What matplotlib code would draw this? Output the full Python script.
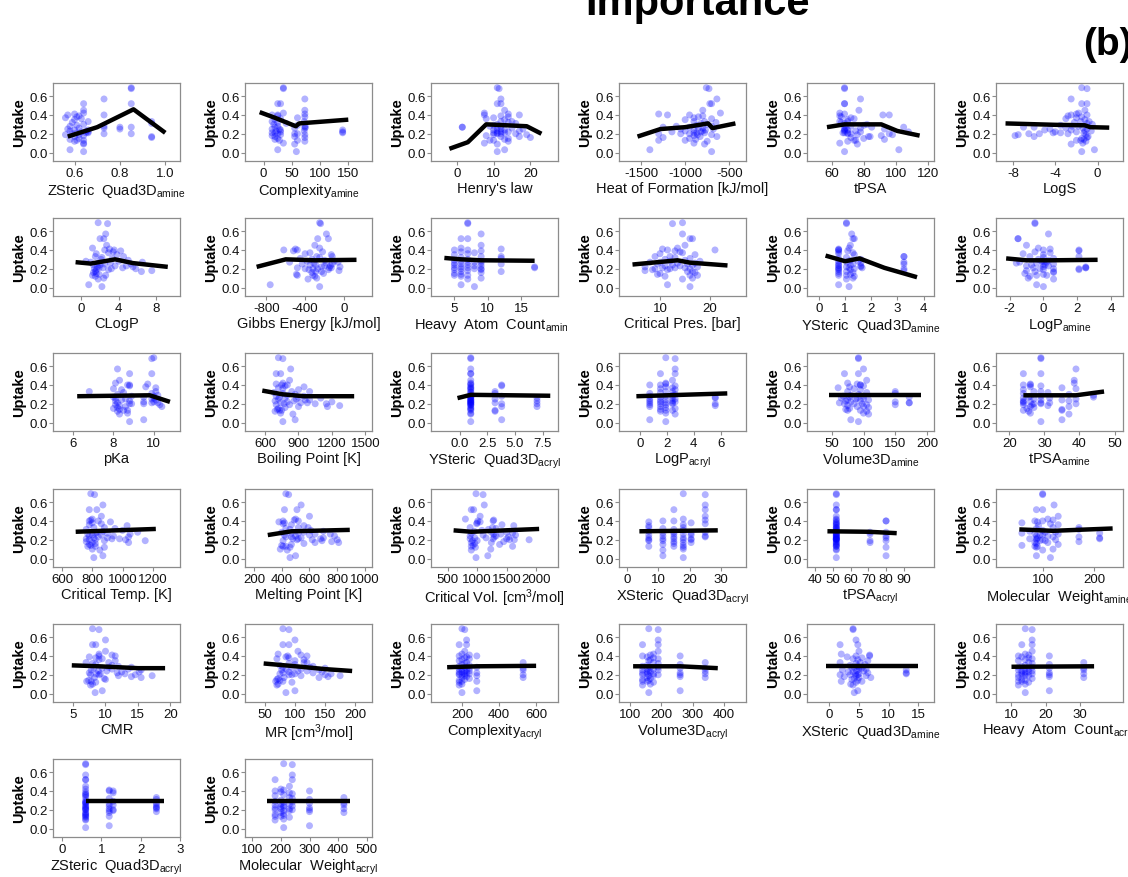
import matplotlib.pyplot as plt
from matplotlib.transforms import Bbox, TransformedBbox

plt.rcParams['font.family'] = ['Liberation Sans', 'DejaVu Sans']
plt.rcParams['mathtext.fontset'] = 'custom'
plt.rcParams['mathtext.rm'] = 'Liberation Sans'
plt.rcParams['mathtext.it'] = 'Liberation Sans:italic'
plt.rcParams['mathtext.bf'] = 'Liberation Sans:bold'
plt.rcParams['axes.unicode_minus'] = False

# measured uptake of every sample (same order in all descriptor lists below)
uptake = [0.69, 0.68, 0.57, 0.52, 0.52, 0.45, 0.42, 0.41,
          0.40, 0.40, 0.39, 0.38, 0.37, 0.36, 0.35, 0.33,
          0.33, 0.32, 0.31, 0.30, 0.29, 0.28, 0.28, 0.27,
          0.27, 0.26, 0.26, 0.25, 0.25, 0.24, 0.24, 0.23,
          0.23, 0.22, 0.22, 0.21, 0.21, 0.21, 0.20, 0.20,
          0.20, 0.19, 0.19, 0.18, 0.17, 0.17, 0.16, 0.15,
          0.14, 0.13, 0.13, 0.12, 0.10, 0.09, 0.03, 0.01]

# ---- descriptor values per sample + partial dependence curves ----
zsteric_amine = [0.85, 0.85, 0.73, 0.64, 0.85, 0.64, 0.64, 0.60,
                 0.57, 0.73, 0.62, 0.61, 0.56, 0.63, 0.60, 0.94,
                 0.66, 0.59, 0.94, 0.64, 0.61, 0.73, 0.58, 0.80,
                 0.85, 0.62, 0.73, 0.57, 0.80, 0.66, 0.60, 0.58,
                 0.65, 0.66, 0.63, 0.66, 0.65, 0.61, 0.85, 0.73,
                 0.59, 0.62, 0.56, 0.64, 0.94, 0.60, 0.94, 0.62,
                 0.58, 0.61, 0.64, 0.60, 0.64, 0.64, 0.58, 0.64]
zsteric_amine_pd_x = [0.57, 0.70, 0.86, 1.0]
zsteric_amine_pd_y = [0.17, 0.27, 0.46, 0.21]

complexity_amine = [35, 35, 73, 30, 25, 73, 35, 73,
                    25, 15, 25, 73, 60, 30, 20, 15,
                    72, 25, 40, 18, 60, 73, 25, 74,
                    20, 55, 73, 28, 15, 30, 140, 22,
                    72, 30, 140, 15, 140, 20, 55, 25,
                    60, 73, 30, 15, 55, 20, 73, 25,
                    20, 28, 60, 73, 35, 55, 25, 58]
complexity_amine_pd_x = [-7, 20, 57, 63, 150]
complexity_amine_pd_y = [0.43, 0.37, 0.28, 0.31, 0.35]

henry = [11, 11.5, 12, 11, 12, 13, 7.5, 14,
         7.5, 17, 12, 14, 10, 8, 13, 15,
         12, 14, 16, 11, 10, 9, 12, 1.5,
         1.5, 11, 15, 18, 12, 13, 10, 17,
         11, 12, 14, 10, 11, 13, 12, 16,
         11, 10, 19, 8, 12, 17, 20, 14,
         13, 9, 10, 14, 7.5, 11, 13, 11]
henry_pd_x = [-2, 3, 8, 19, 23]
henry_pd_y = [0.04, 0.11, 0.30, 0.28, 0.20]

heat_formation = [-760, -730, -640, -720, -700, -800, -600, -1300,
                  -1200, -950, -800, -850, -900, -700, -1000, -780,
                  -900, -650, -820, -750, -870, -1100, -700, -950,
                  -1250, -800, -850, -1050, -680, -900, -770, -1000,
                  -800, -1150, -820, -870, -900, -780, -950, -1050,
                  -1300, -860, -700, -900, -640, -830, -1250, -950,
                  -880, -1300, -1000, -750, -900, -780, -1400, -700]
heat_formation_pd_x = [-1540, -1280, -1000, -740, -690, -430]
heat_formation_pd_y = [0.17, 0.25, 0.27, 0.31, 0.26, 0.31]

tpsa = [68, 68, 78, 68, 68, 77, 65, 68,
        92, 96, 65, 66, 72, 74, 70, 65,
        70, 66, 68, 82, 80, 72, 68, 105,
        85, 69, 78, 68, 93, 68, 70, 75,
        68, 108, 78, 67, 70, 68, 96, 70,
        72, 98, 76, 91, 84, 83, 72, 80,
        93, 75, 74, 70, 65, 76, 102, 68]
tpsa_pd_x = [57, 68, 91, 101, 115]
tpsa_pd_y = [0.27, 0.30, 0.30, 0.23, 0.18]

logs = [-1.5, -1.0, -2.5, -1.5, -1.0, -1.2, -1.8, -2.0,
        -2.5, -1.0, -2.8, -1.5, -2.0, -3.0, -1.2, -0.8,
        -1.6, -2.2, -1.0, -0.5, -3.5, -1.8, -2.4, -7.0,
        -6.0, -1.4, -3.0, -4.5, -1.0, -2.5, -5.0, -0.6,
        -1.2, -4.0, -2.0, -3.5, -4.2, -1.3, -5.5, -6.5,
        -2.8, -1.1, -7.5, -7.8, -6.0, -0.9, -1.0, -1.5,
        -1.3, -2.0, -1.6, -1.1, -1.4, -2.5, -0.3, -1.5]
logs_pd_x = [-8.7, -4.0, -1.2, -0.7, 1.1]
logs_pd_y = [0.31, 0.295, 0.29, 0.27, 0.265]

clogp = [1.8, 2.8, 2.6, 2.0, 2.4, 2.7, 1.2, 3.0,
         3.5, 2.5, 4.2, 3.4, 2.9, 1.6, 3.8, 1.5,
         4.5, 2.2, 3.3, 2.1, 5.0, 0.5, 4.0, 6.5,
         1.0, 3.1, 1.8, 2.5, 5.3, 1.3, 2.0, 3.6,
         4.8, 1.7, 5.5, 1.9, 2.3, 4.4, 1.4, 3.2,
         5.8, 1.6, 2.9, 7.5, 6.4, 1.5, 1.3, 1.6,
         1.9, 2.6, 1.2, 1.5, 2.4, 1.8, 0.8, 2.2]
clogp_pd_x = [-0.6, 1.0, 3.6, 5.5, 9.2]
clogp_pd_y = [0.27, 0.255, 0.30, 0.26, 0.22]

gibbs = [-250, -240, -180, -270, -160, -300, -250, -500,
         -620, -480, -520, -220, -350, -400, -130, -120,
         -280, -250, -450, -330, -200, -100, -380, -60,
         -560, -180, -310, -430, -120, -290, -350, -200,
         -140, -40, -230, -130, -150, -480, -270, -320,
         -400, -160, -360, -50, -290, -230, -330, -210,
         -490, -480, -320, -300, -280, -370, -760, -250]
gibbs_pd_x = [-900, -600, -300, 130]
gibbs_pd_y = [0.22, 0.30, 0.29, 0.295]

heavy_amine = [7, 7, 9, 6, 7, 9, 6, 12,
               5, 7, 9, 6, 8, 7, 5, 12,
               9, 6, 12, 7, 5, 9, 6, 8,
               7, 5, 9, 6, 12, 7, 5, 8,
               9, 6, 17, 5, 17, 7, 6, 9,
               8, 5, 9, 7, 12, 6, 9, 5,
               6, 5, 7, 6, 9, 7, 6, 8]
heavy_amine_pd_x = [3.5, 6, 9, 17]
heavy_amine_pd_y = [0.315, 0.30, 0.29, 0.285]

crit_pres = [14.5, 12.5, 14.5, 16, 16.5, 15, 13.5, 10.5,
             11.5, 21, 13, 14, 14.5, 10, 17, 12,
             9, 13, 16, 11, 15, 18, 12, 8,
             10, 17, 13.5, 15.5, 9.5, 12.5, 16.5, 11,
             14, 7, 17.5, 10.5, 15, 13, 9, 16,
             12, 8.5, 11.5, 7, 16.5, 15.5, 17, 10,
             9.5, 17.5, 16, 11, 16.5, 14.5, 11.5, 16]
crit_pres_pd_x = [4.5, 13.5, 16, 23.5]
crit_pres_pd_y = [0.245, 0.29, 0.265, 0.235]

ysteric_amine = [1.05, 1.05, 1.25, 1.3, 1.35, 1.2, 1.15, 0.75,
                 0.75, 0.75, 1.1, 0.75, 1.3, 0.75, 1.35, 3.25,
                 3.25, 1.05, 0.75, 1.6, 1.2, 1.5, 0.75, 3.25,
                 1.05, 0.75, 1.6, 3.25, 1.3, 0.75, 1.2, 1.6,
                 0.75, 1.05, 1.6, 1.65, 0.75, 1.15, 0.75, 1.35,
                 3.25, 0.75, 1.2, 3.25, 1.05, 0.75, 1.3, 0.75,
                 1.2, 0.75, 1.05, 1.35, 1.3, 1.05, 0.75, 1.15]
ysteric_amine_pd_x = [0.25, 1.0, 1.55, 2.5, 3.75]
ysteric_amine_pd_y = [0.34, 0.28, 0.31, 0.21, 0.11]

logp_amine = [-0.5, -0.5, 0.3, -1.5, -1.5, -1.0, -0.3, 0.4,
              2.1, 0.0, 2.1, -0.5, 0.4, -1.2, 0.0, 2.1,
              -0.8, 0.0, 0.6, -0.3, 0.3, -0.1, 0.0, -1.4,
              0.2, -0.4, -1.6, 0.6, 0.0, -0.7, 0.1, 0.3,
              -1.0, 2.5, 0.0, 2.5, 2.5, -0.6, 0.6, 2.1,
              -0.2, 2.1, 0.0, -1.0, 0.6, -0.5, 0.6, -1.1,
              0.0, -0.4, 0.2, -0.8, -0.9, 0.6, -0.4, 0.0]
logp_amine_pd_x = [-2.2, -1.0, 0.5, 3.2]
logp_amine_pd_y = [0.31, 0.29, 0.29, 0.295]

pka = [10.0, 9.9, 8.2, 8.8, 9.9, 8.3, 8.1, 9.7,
       8.8, 8.7, 8.8, 9.6, 10.1, 8.0, 8.4, 10.1,
       6.8, 8.5, 9.9, 8.2, 10.2, 8.9, 10.0, 8.0,
       9.5, 8.1, 10.0, 8.6, 9.9, 8.4, 10.1, 8.8,
       8.1, 10.0, 9.5, 10.2, 8.2, 9.9, 8.9, 8.8,
       9.5, 8.1, 10.3, 8.3, 10.4, 8.6, 8.2, 8.0,
       8.3, 8.7, 8.5, 8.2, 8.7, 8.3, 9.5, 8.8]
pka_pd_x = [6.2, 8.0, 9.8, 10.8]
pka_pd_y = [0.28, 0.285, 0.29, 0.22]

boiling = [720, 760, 830, 740, 700, 820, 760, 700,
           750, 800, 780, 950, 720, 760, 900, 840,
           1000, 680, 760, 870, 800, 950, 700, 730,
           900, 780, 1100, 720, 880, 960, 1000, 860,
           690, 1200, 800, 980, 740, 920, 1050, 770,
           1150, 820, 700, 1270, 1160, 900, 780, 720,
           710, 730, 750, 690, 740, 850, 870, 760]
boiling_pd_x = [575, 760, 950, 1400]
boiling_pd_y = [0.34, 0.30, 0.28, 0.28]

ysteric_acryl = [1, 1, 1, 1, 1, 1, 1, 1,
                 3.8, 1, 3.8, 1, 1, 1, 1, 3.2,
                 1, 1, 3.2, 1, 1, 3.8, 1, 1,
                 1, 7, 1, 1, 3.2, 1, 1, 7,
                 1, 1, 1, 1, 1, 3.2, 3.8, 7,
                 1, 1, 1, 1, 3.8, 7, 1, 1,
                 1, 3.2, 1, 3.2, 1, 1, 3.8, 1]
ysteric_acryl_pd_x = [-0.2, 1.0, 8.2]
ysteric_acryl_pd_y = [0.26, 0.295, 0.285]

logp_acryl = [1.9, 2.6, 2.6, 1.5, 2.6, 2.4, 1.9, 1.9,
              0.7, 1.5, 2.6, 1.9, 2.4, 1.5, 2.6, 1.9,
              2.4, 1.5, 0.7, 2.6, 2.4, 1.9, 0.7, 5.6,
              1.5, 2.4, 5.6, 0.7, 2.6, 1.9, 1.5, 2.4,
              0.7, 2.6, 1.5, 2.4, 1.9, 0.7, 1.5, 5.6,
              2.4, 1.9, 0.7, 5.6, 1.5, 0.7, 1.9, 2.6,
              1.5, 1.9, 2.4, 1.5, 1.9, 2.6, 0.7, 1.9]
logp_acryl_pd_x = [-0.3, 2.0, 6.5]
logp_acryl_pd_y = [0.28, 0.29, 0.31]

volume_amine = [92, 92, 100, 70, 92, 105, 75, 90,
                95, 95, 100, 78, 60, 85, 95, 150,
                75, 105, 150, 92, 80, 68, 100, 78,
                172, 90, 65, 88, 100, 75, 108, 72,
                95, 80, 150, 172, 172, 62, 98, 85,
                70, 105, 150, 75, 90, 100, 108, 78,
                72, 75, 95, 105, 100, 108, 80, 92]
volume_amine_pd_x = [45, 100, 190]
volume_amine_pd_y = [0.29, 0.29, 0.29]

tpsa_amine = [29, 29, 39, 29, 24, 38.5, 38.5, 26,
              24, 26, 29, 26, 35, 39, 24, 27,
              29, 31, 24, 37, 44, 26, 29, 25.5,
              44, 24, 31.5, 27, 39, 29, 35, 24,
              37, 26, 24, 29, 31.5, 24, 27, 39,
              29, 24, 26.5, 31, 37, 26, 27, 25,
              35, 35, 24, 25.5, 26, 37, 35, 29]
tpsa_amine_pd_x = [24, 39, 47]
tpsa_amine_pd_y = [0.29, 0.29, 0.33]

crit_temp = [790, 815, 870, 780, 830, 860, 800, 790,
             840, 780, 920, 800, 860, 780, 1030, 880,
             810, 950, 760, 1000, 870, 830, 1100, 820,
             900, 770, 1050, 860, 800, 940, 780, 840,
             1040, 900, 810, 760, 930, 980, 820, 1020,
             780, 880, 1150, 760, 1040, 800, 820, 780,
             790, 770, 820, 880, 800, 850, 870, 810]
crit_temp_pd_x = [690, 1220]
crit_temp_pd_y = [0.285, 0.315]

melting = [430, 450, 540, 420, 510, 600, 500, 490,
           410, 520, 380, 420, 410, 470, 560, 590,
           520, 430, 460, 610, 700, 560, 400, 470,
           520, 640, 750, 420, 600, 780, 500, 430,
           470, 700, 540, 520, 680, 480, 800, 510,
           620, 410, 690, 760, 640, 810, 560, 470,
           400, 410, 430, 460, 390, 440, 500, 460]
melting_pd_x = [300, 470, 890]
melting_pd_y = [0.25, 0.29, 0.305]

crit_vol = [980, 1100, 1120, 940, 900, 1050, 800, 1280,
            1010, 1270, 1050, 1000, 990, 1420, 1620, 880,
            1260, 1320, 1190, 1080, 950, 1240, 1500, 1600,
            900, 1400, 1280, 1100, 1650, 880, 1320, 1530,
            1290, 960, 1150, 1500, 880, 1270, 1630, 1880,
            1550, 920, 1000, 1450, 900, 1240, 960, 1380,
            930, 900, 1600, 970, 1230, 900, 1180, 980]
crit_vol_pd_x = [600, 900, 2050]
crit_vol_pd_y = [0.30, 0.285, 0.315]

xsteric_acryl = [18, 25, 25, 15, 25, 25, 18, 25,
                 11.5, 15, 7, 20.5, 25, 18, 7, 18,
                 7, 11.5, 15, 18, 7, 25, 15, 20.5,
                 11.5, 18, 15, 7, 20.5, 25, 11.5, 15,
                 25, 18, 7, 20.5, 11.5, 15, 7, 20.5,
                 18, 11.5, 7, 15, 18, 20.5, 15, 11.5,
                 18, 7, 15, 18, 18, 11.5, 11.5, 18]
xsteric_acryl_pd_x = [4, 29]
xsteric_acryl_pd_y = [0.29, 0.30]

tpsa_acryl = [52, 52, 52, 52, 52, 52, 52, 52,
              80, 80, 52, 52, 52, 52, 52, 52,
              52, 52, 52, 52, 52, 80, 71, 52,
              52, 71, 52, 52, 52, 80, 52, 52,
              52, 52, 80, 52, 52, 52, 52, 52,
              52, 71, 80, 52, 71, 52, 52, 52,
              52, 52, 52, 80, 52, 52, 80, 52]
tpsa_acryl_pd_x = [47, 70, 86]
tpsa_acryl_pd_y = [0.29, 0.285, 0.27]

mw_amine = [100, 100, 122, 88, 100, 130, 110, 120,
            85, 100, 90, 60, 115, 130, 92, 170,
            120, 88, 170, 100, 75, 125, 105, 60,
            210, 85, 130, 100, 95, 88, 110, 120,
            170, 90, 210, 88, 210, 75, 125, 100,
            88, 95, 105, 170, 110, 85, 88, 130,
            60, 90, 85, 88, 120, 100, 88, 115]
mw_amine_pd_x = [55, 120, 235]
mw_amine_pd_y = [0.31, 0.295, 0.32]

cmr = [8.0, 9.0, 10.0, 8.0, 8.5, 10.0, 9.0, 11.0,
       9.0, 11.5, 7.5, 8.5, 9.5, 9.0, 11.5, 7.0,
       10.5, 8.0, 8.5, 11.0, 12.0, 14.0, 10.5, 9.5,
       8.2, 13.5, 11.0, 7.8, 15.5, 10.2, 8.9, 12.5,
       15.2, 7.5, 11.8, 13.0, 9.2, 8.6, 14.6, 9.0,
       7.7, 12.0, 17.2, 14.0, 15.5, 8.3, 9.8, 10.0,
       7.4, 7.1, 7.8, 8.5, 8.0, 7.7, 9.5, 8.4]
cmr_pd_x = [4.8, 9.0, 15.0, 19.2]
cmr_pd_y = [0.30, 0.29, 0.27, 0.27]

mr = [80, 90, 100, 80, 90, 105, 72, 110,
      88, 120, 85, 90, 70, 115, 100, 120,
      115, 90, 100, 75, 130, 125, 80, 150,
      95, 110, 85, 140, 78, 120, 105, 90,
      145, 80, 130, 100, 160, 75, 90, 95,
      150, 110, 175, 155, 140, 82, 72, 70,
      75, 68, 80, 95, 72, 70, 100, 85]
mr_pd_x = [48, 110, 150, 195]
mr_pd_y = [0.32, 0.285, 0.26, 0.24]

complexity_acryl = [200, 215, 225, 185, 225, 215, 200, 240,
                    185, 280, 225, 215, 240, 200, 185, 530,
                    225, 215, 200, 240, 185, 280, 215, 530,
                    240, 200, 185, 225, 530, 215, 240, 185,
                    200, 225, 280, 215, 185, 240, 200, 530,
                    185, 215, 280, 225, 530, 200, 240, 215,
                    185, 280, 200, 185, 200, 185, 280, 200]
complexity_acryl_pd_x = [120, 280, 600]
complexity_acryl_pd_y = [0.28, 0.29, 0.295]

volume_acryl = [160, 190, 190, 140, 190, 190, 175, 165,
                140, 260, 155, 175, 190, 165, 160, 340,
                175, 190, 260, 155, 140, 165, 190, 340,
                260, 155, 175, 140, 190, 160, 340, 155,
                165, 260, 140, 175, 340, 155, 260, 190,
                140, 175, 160, 260, 340, 155, 165, 140,
                160, 155, 140, 175, 165, 140, 260, 160]
volume_acryl_pd_x = [110, 260, 380]
volume_acryl_pd_y = [0.29, 0.29, 0.27]

xsteric_amine = [4, 4, 4.5, 1.8, 4.8, 5, 2, 6.8,
                 4.5, 6.8, 3, 5.5, 4, 4.8, 6.5, 1.8,
                 5.2, 4.5, 6, 3.5, 4.8, 5, 4.2, 5.5,
                 3.8, 6.2, 5, 13, 2.2, 4.6, 5.8, 4,
                 3.2, 13, 6.5, 5, 13, 4.4, 3.5, 4.8,
                 1.8, 6.2, 4.5, 2.5, 5, 7, 4.2, 3.8,
                 4.8, 2, 5.5, 4.5, 3.6, 4, 4.8, 4.2]
xsteric_amine_pd_x = [-0.5, 15]
xsteric_amine_pd_y = [0.29, 0.29]

heavy_acryl = [14, 16, 16, 13, 16, 16, 14, 15,
               12, 21, 13, 15, 16, 14, 12, 31,
               15, 16, 21, 14, 13, 12, 16, 31,
               21, 14, 15, 12, 31, 13, 16, 14,
               15, 21, 13, 16, 31, 14, 21, 12,
               13, 14, 15, 21, 31, 12, 16, 13,
               14, 12, 13, 15, 14, 12, 21, 14]
heavy_acryl_pd_x = [10, 34]
heavy_acryl_pd_y = [0.285, 0.29]

zsteric_acryl = [0.6, 0.6, 0.6, 0.6, 0.6, 0.6, 0.6, 1.2,
                 1.3, 1.2, 0.6, 1.3, 0.6, 0.6, 0.6, 2.4,
                 0.6, 1.2, 2.4, 0.6, 1.3, 0.6, 0.6, 2.4,
                 0.6, 1.2, 0.6, 1.3, 2.4, 0.6, 1.2, 0.6,
                 2.4, 0.6, 2.4, 1.2, 2.4, 0.6, 1.3, 0.6,
                 0.6, 1.2, 1.3, 2.4, 0.6, 1.2, 0.6, 0.6,
                 0.6, 0.6, 1.2, 0.6, 0.6, 0.6, 1.2, 0.6]
zsteric_acryl_pd_x = [0.6, 2.6]
zsteric_acryl_pd_y = [0.29, 0.29]

mw_acryl = [210, 240, 240, 180, 240, 230, 200, 210,
            180, 300, 200, 230, 240, 210, 180, 420,
            230, 240, 300, 200, 180, 210, 240, 420,
            300, 200, 230, 180, 420, 210, 240, 200,
            210, 300, 180, 230, 420, 200, 300, 240,
            180, 230, 210, 300, 420, 200, 210, 180,
            210, 200, 180, 230, 210, 180, 300, 210]
mw_acryl_pd_x = [150, 440]
mw_acryl_pd_y = [0.29, 0.29]

# panel order (row by row): label, samples, pd curve, x range, x ticks
panels = [
    (r'ZSteric  Quad3D$_{\mathrm{amine}}$', zsteric_amine, zsteric_amine_pd_x, zsteric_amine_pd_y, (0.505, 1.065), [0.6, 0.8, 1.0]),
    (r'Complexity$_{\mathrm{amine}}$', complexity_amine, complexity_amine_pd_x, complexity_amine_pd_y, (-33, 192), [0, 50, 100, 150]),
    ("Henry's law", henry, henry_pd_x, henry_pd_y, (-7, 27.5), [0, 10, 20]),
    ('Heat of Formation [kJ/mol]', heat_formation, heat_formation_pd_x, heat_formation_pd_y, (-1750, -310), [-1500, -1000, -500]),
    ('tPSA', tpsa, tpsa_pd_x, tpsa_pd_y, (44.5, 124), [60, 80, 100, 120]),
    ('LogS', logs, logs_pd_x, logs_pd_y, (-9.6, 2.4), [-8, -4, 0]),
    ('CLogP', clogp, clogp_pd_x, clogp_pd_y, (-3.0, 10.5), [0, 4, 8]),
    ('Gibbs Energy [kJ/mol]', gibbs, gibbs_pd_x, gibbs_pd_y, (-1020, 290), [-800, -400, 0]),
    (r'Heavy  Atom  Count$_{\mathrm{amine}}$', heavy_amine, heavy_amine_pd_x, heavy_amine_pd_y, (1.5, 20.5), [5, 10, 15]),
    ('Critical Pres. [bar]', crit_pres, crit_pres_pd_x, crit_pres_pd_y, (1.8, 27.2), [10, 20]),
    (r'YSteric  Quad3D$_{\mathrm{amine}}$', ysteric_amine, ysteric_amine_pd_x, ysteric_amine_pd_y, (-0.46, 4.4), [0, 1, 2, 3, 4]),
    (r'LogP$_{\mathrm{amine}}$', logp_amine, logp_amine_pd_x, logp_amine_pd_y, (-2.8, 4.7), [-2, 0, 2, 4]),
    ('pKa', pka, pka_pd_x, pka_pd_y, (5.0, 11.3), [6, 8, 10]),
    ('Boiling Point [K]', boiling, boiling_pd_x, boiling_pd_y, (420, 1560), [600, 900, 1200, 1500]),
    (r'YSteric  Quad3D$_{\mathrm{acryl}}$', ysteric_acryl, ysteric_acryl_pd_x, ysteric_acryl_pd_y, (-2.6, 8.9), [0.0, 2.5, 5.0, 7.5]),
    (r'LogP$_{\mathrm{acryl}}$', logp_acryl, logp_acryl_pd_x, logp_acryl_pd_y, (-1.6, 7.9), [0, 2, 4, 6]),
    (r'Volume3D$_{\mathrm{amine}}$', volume_amine, volume_amine_pd_x, volume_amine_pd_y, (11, 211), [50, 100, 150, 200]),
    (r'tPSA$_{\mathrm{amine}}$', tpsa_amine, tpsa_amine_pd_x, tpsa_amine_pd_y, (16.2, 52.4), [20, 30, 40, 50]),
    ('Critical Temp. [K]', crit_temp, crit_temp_pd_x, crit_temp_pd_y, (540, 1380), [600, 800, 1000, 1200]),
    ('Melting Point [K]', melting, melting_pd_x, melting_pd_y, (136, 1050), [200, 400, 600, 800, 1000]),
    (r'Critical Vol. [cm$^{3}$/mol]', crit_vol, crit_vol_pd_x, crit_vol_pd_y, (217, 2370), [500, 1000, 1500, 2000]),
    (r'XSteric  Quad3D$_{\mathrm{acryl}}$', xsteric_acryl, xsteric_acryl_pd_x, xsteric_acryl_pd_y, (-2.5, 38), [0, 10, 20, 30]),
    (r'tPSA$_{\mathrm{acryl}}$', tpsa_acryl, tpsa_acryl_pd_x, tpsa_acryl_pd_y, (35.5, 107), [40, 50, 60, 70, 80, 90]),
    (r'Molecular  Weight$_{\mathrm{amine}}$', mw_amine, mw_amine_pd_x, mw_amine_pd_y, (10, 255), [100, 200]),
    ('CMR', cmr, cmr_pd_x, cmr_pd_y, (1.9, 21.5), [5, 10, 15, 20]),
    (r'MR [cm$^{3}$/mol]', mr, mr_pd_x, mr_pd_y, (17, 228), [50, 100, 150, 200]),
    (r'Complexity$_{\mathrm{acryl}}$', complexity_acryl, complexity_acryl_pd_x, complexity_acryl_pd_y, (33, 718), [200, 400, 600]),
    (r'Volume3D$_{\mathrm{acryl}}$', volume_acryl, volume_acryl_pd_x, volume_acryl_pd_y, (65, 470), [100, 200, 300, 400]),
    (r'XSteric  Quad3D$_{\mathrm{amine}}$', xsteric_amine, xsteric_amine_pd_x, xsteric_amine_pd_y, (-3.8, 17.7), [0, 5, 10, 15]),
    (r'Heavy  Atom  Count$_{\mathrm{acryl}}$', heavy_acryl, heavy_acryl_pd_x, heavy_acryl_pd_y, (5.5, 42.4), [10, 20, 30]),
    (r'ZSteric  Quad3D$_{\mathrm{acryl}}$', zsteric_acryl, zsteric_acryl_pd_x, zsteric_acryl_pd_y, (-0.23, 3.0), [0, 1, 2, 3]),
    (r'Molecular  Weight$_{\mathrm{acryl}}$', mw_acryl, mw_acryl_pd_x, mw_acryl_pd_y, (75, 518), [100, 200, 300, 400, 500]),
]

W, H = 1128, 878
col_left = [53, 245, 431, 619, 807, 996]
row_top = [84, 219, 354, 490, 625, 760]
box_w, box_h = 127, 78
# the third column's labels stop where the fourth column begins
clip_right = {2: 567}

fig = plt.figure(figsize=(W / 100, H / 100), dpi=100)
gray = '#8c8c8c'

for i, (label, xs, pdx, pdy, xlim, xticks) in enumerate(panels):
    assert len(xs) == len(uptake), label
    r, c = divmod(i, 6)
    left, top = col_left[c], row_top[r]
    ax = fig.add_axes([left / W, 1 - (top + box_h) / H, box_w / W, box_h / H])
    ax.scatter(xs, uptake, s=25, color='#0000ff', alpha=0.3,
               edgecolors='none', zorder=2)
    ax.plot(pdx, pdy, color='black', lw=3.2, solid_capstyle='butt', zorder=3)
    ax.set_xlim(*xlim)
    ax.set_ylim(-0.09, 0.74)
    ax.set_yticks([0.0, 0.2, 0.4, 0.6])
    ax.set_yticklabels(['0.0', '0.2', '0.4', '0.6'])
    ax.set_xticks(xticks)
    if all(float(t).is_integer() for t in xticks):
        ax.set_xticklabels([str(int(t)) for t in xticks])
    else:
        ax.set_xticklabels(['%.1f' % t for t in xticks])
    for s in ax.spines.values():
        s.set_color(gray)
        s.set_linewidth(0.9)
    ax.tick_params(direction='out', length=3, width=0.8, color=gray,
                   labelsize=9.5, pad=1, labelcolor='#111111')
    ax.set_ylabel('Uptake', fontsize=10.5, fontweight='bold', labelpad=2)
    ax.set_xlabel(label, fontsize=10.5, labelpad=1.5, color='#111111')
    if c in clip_right:
        cell = Bbox.from_extents(0, 0, clip_right[c] / W, 1)
        ax.xaxis.label.set_clip_box(TransformedBbox(cell, fig.transFigure))
        ax.xaxis.label.set_clip_on(True)

fig.text(698 / W, 1 - 15 / H, 'Importance', fontsize=30, fontweight='bold',
         ha='center', va='baseline')
fig.text(1083 / W, 1 - 55 / H, '(b)', fontsize=28, fontweight='bold',
         ha='left', va='baseline')

fig.savefig('out.png', dpi=100)
